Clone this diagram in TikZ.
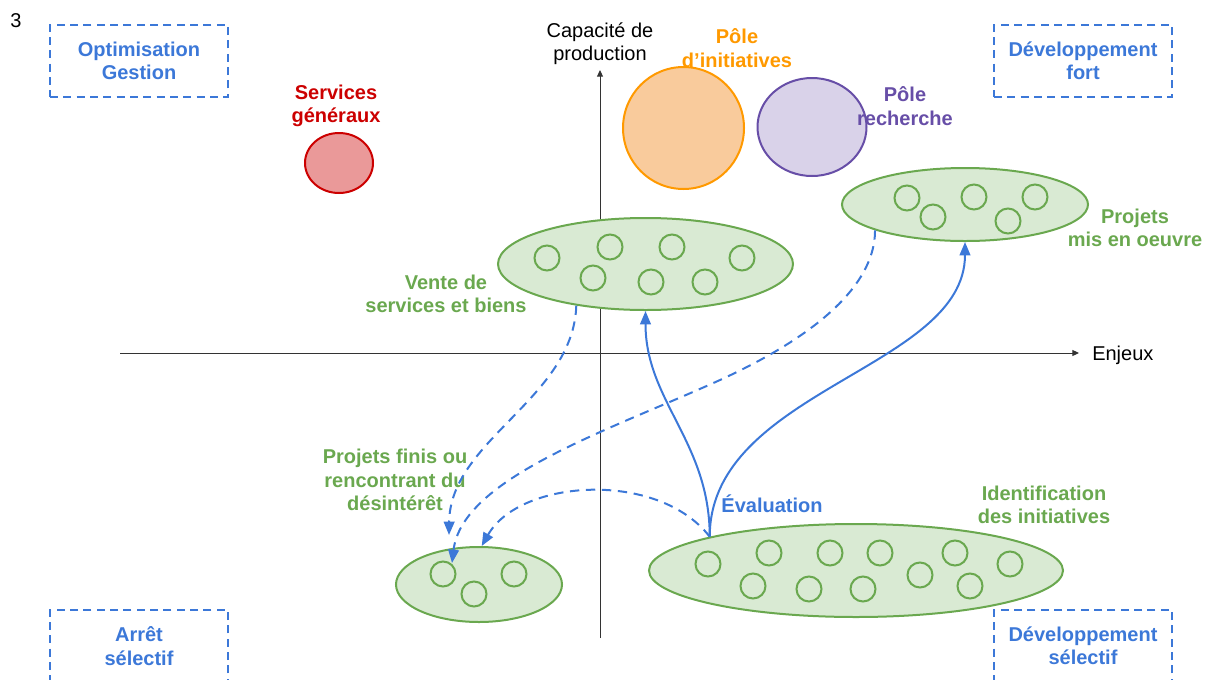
\documentclass[tikz,border=0pt]{standalone}
\usepackage{fontspec}
\setmainfont{Liberation Sans}
\usetikzlibrary{shapes.geometric,arrows.meta}
\definecolor{cblue}{HTML}{3C78D8}
\definecolor{cgreen}{HTML}{6AA84F}
\definecolor{cgreenfill}{HTML}{D9EAD3}
\definecolor{cred}{HTML}{CC0000}
\definecolor{credfill}{HTML}{EA9999}
\definecolor{corange}{HTML}{FF9900}
\definecolor{corangefill}{HTML}{F9CB9C}
\definecolor{cpurple}{HTML}{674EA7}
\definecolor{cpurplefill}{HTML}{D9D2E9}
\definecolor{caxis}{HTML}{333333}
\newcommand\dfont{\fontsize{15}{17.5}\selectfont}
\begin{document}
\begin{tikzpicture}[x=0.75pt,y=-0.75pt,
  lbl/.style={font=\dfont\bfseries, align=center, inner sep=0pt},
  plain/.style={font=\dfont, align=center, inner sep=0pt, text=black},
  quad/.style={draw=cblue, line width=1.5pt, dash pattern=on 6pt off 4pt,
    minimum width=133.5pt, minimum height=54pt, inner sep=0pt,
    text=cblue, font=\dfont\bfseries, align=center},
  blob/.style={ellipse, draw=cgreen, fill=cgreenfill, line width=1.5pt, inner sep=0pt},
  dot/.style={draw=cgreen, line width=1.5pt},
  flow/.style={draw=cblue, line width=1.5pt, -{Triangle[length=10pt,width=8pt]}},
  flowd/.style={flow, dash pattern=on 7pt off 5pt},
  axis/.style={draw=caxis, line width=0.75pt, -{Triangle[length=5pt,width=4.5pt]}}
]
\clip (0,0) rectangle (1211,679);

% axes
\coordinate (yb) at (600,638);
\coordinate (yt) at (600,70);
\coordinate (xl) at (120,353);
\coordinate (xr) at (1079,353);
\draw[axis] (yb) -- (yt);
\draw[axis] (xl) -- (xr);
\node[plain] (cap) at (600,44) {Capacité de\\production};
\node[plain, anchor=west] (enj) at (1092,355) {Enjeux};
\node[plain] (three) at (16,21) {3};

% quadrant boxes
\node[quad] (q1) at (139,61) {Optimisation\\Gestion};
\node[quad] (q2) at (1083,61) {Développement\\fort};
\node[quad] (q3) at (139,646) {Arrêt\\sélectif};
\node[quad] (q4) at (1083,646) {Développement\\sélectif};

% poles
\node[ellipse, draw=cred, fill=credfill, line width=1.5pt, inner sep=0pt,
  minimum width=51pt, minimum height=45pt] (serv) at (339,163) {};
\node[ellipse, draw=corange, fill=corangefill, line width=1.5pt, inner sep=0pt,
  minimum width=90.75pt, minimum height=91.5pt] (init) at (683.5,128) {};
\node[ellipse, draw=cpurple, fill=cpurplefill, line width=1.5pt, inner sep=0pt,
  minimum width=81.75pt, minimum height=73.5pt] (rech) at (812,127) {};
\node[lbl, text=cred] (servl) at (336,106) {Services\\généraux};
\node[lbl, text=corange] (initl) at (737,48) {Pôle\\d’initiatives};
\node[lbl, text=cpurple] (rechl) at (905,106) {Pôle\\recherche};

% groups
\node[blob, minimum width=184.5pt, minimum height=54.75pt] (mis) at (965,204.5) {};
\node[blob, minimum width=221.25pt, minimum height=69pt] (vente) at (645.5,264) {};
\node[blob, minimum width=124.5pt, minimum height=56.25pt] (finis) at (479,584.5) {};
\node[blob, minimum width=310.5pt, minimum height=69.75pt] (ident) at (856,570.5) {};

\foreach \p in {(907,198),(933,217),(974,197),(1008,221),(1035,197)}
  \draw[dot] \p circle (12.5);
\foreach \p in {(547,258),(610,247),(672,247),(742,258),(593,278),(651,282),(705,282)}
  \draw[dot] \p circle (12.5);
\foreach \p in {(443,574),(474,594),(514,574)}
  \draw[dot] \p circle (12.5);
\foreach \p in {(708,564),(769,553),(753,586),(830,553),(809,589),(880,553),(863,589),(920,575),(955,553),(970,586),(1010,564)}
  \draw[dot] \p circle (12.5);

\node[lbl, text=cgreen] (misl) at (1135,228) {Projets\\mis en oeuvre};
\node[lbl, text=cgreen] (ventel) at (446,294) {Vente de\\services et biens};
\node[lbl, text=cgreen] (finisl) at (395,480) {Projets finis ou\\rencontrant du\\désintérêt};
\node[lbl, text=cgreen] (identl) at (1044,505) {Identification\\des initiatives};
\node[lbl, text=cblue] (eval) at (772,504) {Évaluation};

% connectors
\coordinate (tipA) at (449,535);
\coordinate (tipB) at (452,563);
\coordinate (m1) at (720,380);
\draw[flow] (ident.167) .. controls +(0,-95) and +(0,90) .. (vente.south);
\draw[flow] (ident.167) .. controls +(0,-147) and +(0,127) .. (mis.south);
\draw[flowd] (vente.211) .. controls +(-3,93) and +(1,-95) .. (tipA);
\draw[flowd] (mis.196) .. controls +(0,70) and +(59,-27) .. (m1)
  .. controls +(-110,50) and +(10,-85) .. (tipB);
\draw[flowd] (ident.167) .. controls +(-52,-67) and +(38,-67) .. (finis.86);
\end{tikzpicture}
\end{document}
